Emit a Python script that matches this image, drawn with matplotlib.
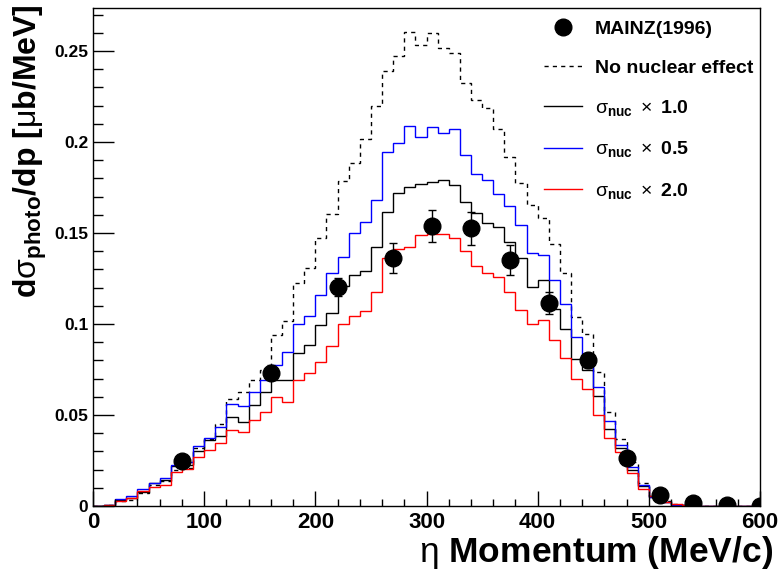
import numpy as np
import matplotlib
matplotlib.use('Agg')
import matplotlib.pyplot as plt
from matplotlib.ticker import MultipleLocator, FuncFormatter
from matplotlib.lines import Line2D

plt.rcParams['font.family'] = ['Liberation Sans', 'DejaVu Sans']
plt.rcParams['mathtext.fontset'] = 'custom'
plt.rcParams['mathtext.rm'] = 'Liberation Sans'
plt.rcParams['mathtext.bf'] = 'Liberation Sans:bold'
plt.rcParams['mathtext.it'] = 'Liberation Sans:italic'
plt.rcParams['mathtext.sf'] = 'Liberation Sans'

# histogram binning: 10 MeV/c bins from 0 to 600
bin_edges = np.arange(0, 601, 10)

# no nuclear effect (dashed)
no_nuc = [0.0, 0.0008, 0.003, 0.0035, 0.007, 0.0115, 0.0135, 0.020, 0.021, 0.0317,
          0.0366, 0.045, 0.0588, 0.0628, 0.0692, 0.075, 0.094, 0.1018, 0.1228, 0.1306,
          0.1471, 0.1606, 0.1786, 0.1886, 0.2015, 0.220, 0.239, 0.2472, 0.2606, 0.2533,
          0.2597, 0.2518, 0.2491, 0.2322, 0.2229, 0.2185, 0.2071, 0.1917, 0.1773, 0.1654,
          0.1581, 0.144, 0.1278, 0.104, 0.0943, 0.0738, 0.0518, 0.0366, 0.024, 0.0125,
          0.0055, 0.0025, 0.001, 0.0004, 0.0002, 0.0001, 0.0001, 0.0001, 0.0001, 0.0001]

# sigma_nuc x 1.0 (black)
nuc_10 = [0.0, 0.0006, 0.0033, 0.0042, 0.0075, 0.0125, 0.0143, 0.0218, 0.0225, 0.0303,
          0.036, 0.0385, 0.0487, 0.0463, 0.0553, 0.0625, 0.069, 0.069, 0.0841, 0.0884,
          0.0992, 0.106, 0.121, 0.127, 0.129, 0.1421, 0.1617, 0.1718, 0.1755, 0.1771,
          0.1782, 0.179, 0.1765, 0.1672, 0.1608, 0.1553, 0.1531, 0.1452, 0.1361, 0.1203,
          0.1242, 0.108, 0.0971, 0.0806, 0.0747, 0.0604, 0.0421, 0.0317, 0.0198, 0.0109,
          0.0047, 0.002, 0.0008, 0.0003, 0.0001, 0.0001, 0.0001, 0.0001, 0.0001, 0.0001]

# sigma_nuc x 0.5 (blue)
nuc_05 = [0.0, 0.0008, 0.0037, 0.0055, 0.0092, 0.0128, 0.0152, 0.0227, 0.024, 0.0328,
          0.0372, 0.0436, 0.0562, 0.0552, 0.0625, 0.0692, 0.0773, 0.0845, 0.100, 0.1046,
          0.1159, 0.128, 0.1366, 0.150, 0.1562, 0.1681, 0.1947, 0.1993, 0.2088, 0.2026,
          0.2081, 0.2051, 0.2070, 0.1928, 0.1826, 0.1793, 0.1715, 0.1648, 0.1544, 0.139,
          0.1377, 0.1242, 0.1108, 0.0927, 0.0811, 0.0654, 0.0466, 0.0338, 0.0214, 0.0117,
          0.0051, 0.0024, 0.0008, 0.0003, 0.0001, 0.0001, 0.0001, 0.0001, 0.0001, 0.0001]

# sigma_nuc x 2.0 (red)
nuc_20 = [0.0, 0.0007, 0.0029, 0.0046, 0.008, 0.0106, 0.0115, 0.0189, 0.0201, 0.027,
          0.031, 0.0346, 0.0418, 0.0406, 0.047, 0.0518, 0.0601, 0.0573, 0.0692, 0.0731,
          0.079, 0.0878, 0.1002, 0.1043, 0.1073, 0.1178, 0.1364, 0.141, 0.1425, 0.1489,
          0.1497, 0.1495, 0.1471, 0.140, 0.1319, 0.1278, 0.126, 0.1178, 0.1077, 0.0998,
          0.102, 0.0914, 0.0811, 0.0697, 0.0641, 0.050, 0.0374, 0.0298, 0.0183, 0.0092,
          0.0055, 0.0024, 0.0011, 0.0004, 0.0002, 0.0002, 0.0002, 0.0002, 0.0002, 0.0002]

# MAINZ(1996) data
mainz_p = [80, 160, 220, 270, 305, 340, 375, 410, 445, 480, 510, 540, 570, 600]
mainz_xs = [0.025, 0.0733, 0.1203, 0.1361, 0.154, 0.1525, 0.1352, 0.1114, 0.080, 0.0262,
            0.006, 0.0018, 0.0003, 0.0001]
mainz_err = [0.002, 0.004, 0.005, 0.0082, 0.0087, 0.0092, 0.0082, 0.006, 0.004, 0.002,
             0.001, 0.0005, 0.0003, 0.0001]

fig = plt.figure(figsize=(7.81, 5.73), dpi=100)
ax = fig.add_axes([0.1191, 0.1169, 0.854, 0.869])

ax.stairs(no_nuc, bin_edges, color='black', lw=1.0, linestyle=(0, (3, 3)))
ax.stairs(nuc_10, bin_edges, color='black', lw=1.0)
ax.stairs(nuc_05, bin_edges, color='#0000ff', lw=1.0)
ax.stairs(nuc_20, bin_edges, color='#ff0000', lw=1.0)
ax.errorbar(mainz_p, mainz_xs, yerr=mainz_err, fmt='o', ms=12, color='black',
            ecolor='black', elinewidth=1, capsize=3, zorder=5)

ax.set_xlim(0, 600)
ax.set_ylim(0, 0.2736)
ax.xaxis.set_major_locator(MultipleLocator(100))
ax.xaxis.set_minor_locator(MultipleLocator(20))
ax.yaxis.set_major_locator(MultipleLocator(0.05))
ax.yaxis.set_minor_locator(MultipleLocator(0.01))
ax.yaxis.set_major_formatter(FuncFormatter(lambda v, p: '%g' % round(v, 3)))
ax.xaxis.set_major_formatter(FuncFormatter(lambda v, p: '%g' % v))

ax.tick_params(axis='both', which='both', direction='in', top=False, right=False, width=1)
ax.tick_params(axis='x', which='major', length=11, pad=4, labelsize=16)
ax.tick_params(axis='x', which='minor', length=5)
ax.tick_params(axis='y', which='major', length=15, pad=3.5, labelsize=12.5)
ax.tick_params(axis='y', which='minor', length=7.5)
for lab in ax.get_xticklabels() + ax.get_yticklabels():
    lab.set_fontweight('bold')
for s in ax.spines.values():
    s.set_linewidth(1.0)

fig.text(773/781, 1 - 562/573, r'$\mathrm{\eta}$ Momentum (MeV/c)', ha='right', va='baseline',
         fontsize=25.5, fontweight='bold')
fig.text(30/781, 1 - 4/573, r'd$\mathrm{\sigma}_{\mathbf{photo}}$/dp [$\mathrm{\mu}$b/MeV]',
         rotation=90, ha='center', va='top', fontsize=23, fontweight='bold')

handles = [
    Line2D([], [], marker='o', ms=12, color='black', linestyle='none'),
    Line2D([], [], color='black', lw=1.0, linestyle=(0, (3, 3))),
    Line2D([], [], color='black', lw=1.0),
    Line2D([], [], color='#0000ff', lw=1.0),
    Line2D([], [], color='#ff0000', lw=1.0),
]
labels = [
    'MAINZ(1996)',
    'No nuclear effect',
    r'$\mathrm{\sigma}_{\mathbf{nuc}}\ \times\ \mathbf{1.0}$',
    r'$\mathrm{\sigma}_{\mathbf{nuc}}\ \times\ \mathbf{0.5}$',
    r'$\mathrm{\sigma}_{\mathbf{nuc}}\ \times\ \mathbf{2.0}$',
]
leg = ax.legend(handles, labels, loc='upper left', bbox_to_anchor=(544/781, 1 - 20/573),
                bbox_transform=fig.transFigure, frameon=False, borderpad=0,
                borderaxespad=0, handlelength=1.95, handletextpad=0.65,
                labelspacing=1.1, prop={'size': 14, 'weight': 'bold'})

fig.savefig('out.png', dpi=100)
